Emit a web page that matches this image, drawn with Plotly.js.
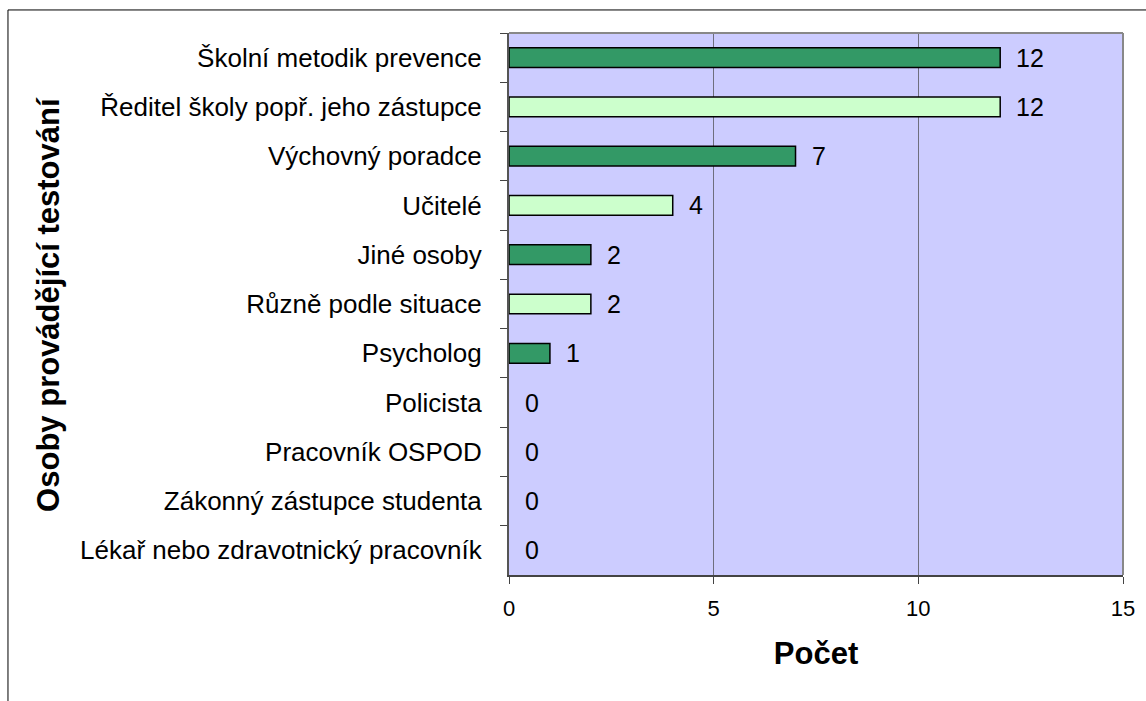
<!DOCTYPE html>
<html>
<head>
<meta charset="utf-8">
<script src="https://cdn.plot.ly/plotly-3.0.1.min.js"></script>
<style>
  html, body { margin: 0; padding: 0; background: #ffffff; }
  #chart { width: 1146px; height: 701px; }
</style>
</head>
<body>
<div id="chart"></div>
<script>
// Who carries out the testing – number of answers per person type
const categories = [
  "Školní metodik prevence",
  "Ředitel školy popř. jeho zástupce",
  "Výchovný poradce",
  "Učitelé",
  "Jiné osoby",
  "Různě podle situace",
  "Psycholog",
  "Policista",
  "Pracovník OSPOD",
  "Zákonný zástupce studenta",
  "Lékař nebo zdravotnický pracovník"
];
const counts = [12, 12, 7, 4, 2, 2, 1, 0, 0, 0, 0];
const xTicks = [0, 5, 10, 15];
const yTitle = "Osoby provádějící testování";
const xTitle = "Počet";

const FONT = "Liberation Sans, Arial, sans-serif";
const DARK = "#339966";
const LIGHT = "#CCFFCC";

// alternate the two greens down the list
const barColors = categories.map((_, i) => (i % 2 === 0 ? DARK : LIGHT));
// no outline on empty bars
const barOutline = counts.map(v => (v > 0 ? 1.5 : 0));

const trace = {
  type: "bar",
  orientation: "h",
  x: counts,
  y: categories,
  marker: { color: barColors, line: { color: "#000000", width: barOutline } },
  hoverinfo: "x+y",
  showlegend: false
};

// value labels to the right of each bar end
const valueLabels = categories.map((c, i) => ({
  x: counts[i],
  y: c,
  xref: "x",
  yref: "y",
  text: String(counts[i]),
  showarrow: false,
  xanchor: "left",
  yanchor: "middle",
  xshift: 14,
  font: { family: FONT, size: 25, color: "#000000" }
}));

// vertical category-axis title, placed at the far left of the chart
const yTitleNote = {
  xref: "paper",
  yref: "paper",
  x: -0.751,
  y: 0.5,
  xanchor: "center",
  yanchor: "middle",
  textangle: -90,
  showarrow: false,
  text: "<b>" + yTitle + "</b>",
  font: { family: FONT, size: 31, color: "#000000" }
};

const layout = {
  width: 1146,
  height: 701,
  margin: { l: 509, r: 23, t: 33, b: 126, pad: 0 },
  paper_bgcolor: "#ffffff",
  plot_bgcolor: "#CCCCFF",
  bargap: 0.6,
  font: { family: FONT, color: "#000000" },
  xaxis: {
    range: [0, 15],
    tickvals: xTicks,
    ticktext: xTicks.map(String),
    ticks: "outside",
    ticklen: 7,
    tickwidth: 1,
    tickcolor: "#444444",
    ticklabelstandoff: 6,
    tickfont: { family: FONT, size: 22, color: "#000000" },
    showgrid: true,
    gridcolor: "#6e6e7e",
    gridwidth: 1.2,
    zeroline: false,
    showline: true,
    linecolor: "#444444",
    linewidth: 1.5,
    title: {
      text: xTitle,
      font: { family: FONT, size: 31, color: "#000000", weight: "bold" },
      standoff: 22
    },
    fixedrange: true
  },
  yaxis: {
    type: "category",
    autorange: "reversed",
    ticks: "outside",
    tickson: "boundaries",
    ticklen: 7,
    tickwidth: 1,
    tickcolor: "#444444",
    ticklabelstandoff: 20,
    tickfont: { family: FONT, size: 26, color: "#000000" },
    showgrid: false,
    zeroline: false,
    showline: true,
    linecolor: "#555555",
    linewidth: 2,
    fixedrange: true
  },
  annotations: valueLabels.concat([yTitleNote]),
  shapes: [
    // top and right edges of the plot area
    { type: "line", xref: "paper", yref: "paper", x0: 0, x1: 1, y0: 1, y1: 1,
      line: { color: "#888888", width: 2 } },
    { type: "line", xref: "paper", yref: "paper", x0: 1, x1: 1, y0: 0, y1: 1,
      line: { color: "#888888", width: 2 } },
    // outer frame of the chart
    { type: "rect", xref: "paper", yref: "paper",
      x0: -0.816, x1: 1.3, y0: -0.5, y1: 1.0425,
      line: { color: "#000000", width: 1 }, fillcolor: "rgba(0,0,0,0)" }
  ]
};

Plotly.newPlot("chart", [trace], layout, { staticPlot: true, displayModeBar: false });
</script>
</body>
</html>
